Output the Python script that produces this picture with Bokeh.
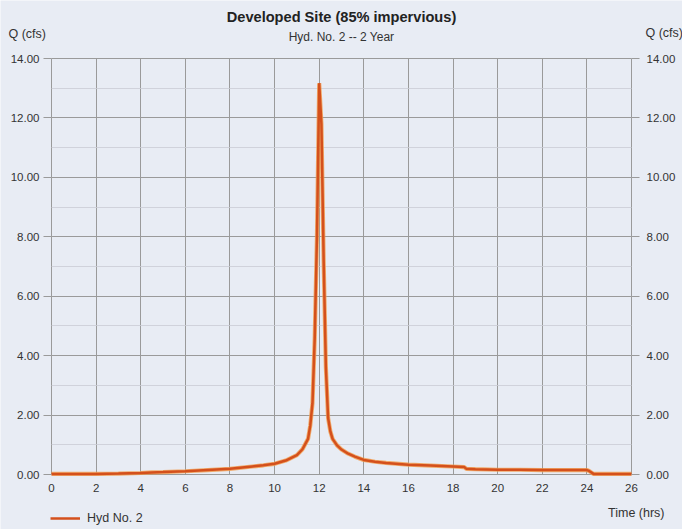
from bokeh.plotting import figure
from bokeh.models import (LinearAxis, SingleIntervalTicker, PrintfTickFormatter,
                          Label, Legend, LegendItem, Range1d, BoxAnnotation)
from bokeh.embed import file_html
from bokeh.resources import INLINE

# ---- data ----
title_text = "Developed Site (85% impervious)"
subtitle_text = "Hyd. No. 2 -- 2 Year"
series_name = "Hyd No. 2"
y_label = "Q (cfs)"
x_label = "Time (hrs)"

time_hrs = [0, 1, 2, 3, 4, 4.5, 5, 6, 7, 8, 9, 9.5, 10, 10.5, 11, 11.25, 11.5,
            11.6, 11.7, 11.8, 11.9, 12.0, 12.1, 12.2, 12.3, 12.4, 12.5, 12.6,
            12.8, 13.0, 13.3, 13.6, 14.0, 14.5, 15, 16, 17, 18, 18.5, 18.6, 19,
            20, 21, 22, 23, 24, 24.1, 24.3, 25, 26]
flow_cfs = [0.02, 0.02, 0.02, 0.03, 0.05, 0.07, 0.08, 0.11, 0.15, 0.19, 0.27,
            0.31, 0.36, 0.47, 0.65, 0.85, 1.2, 1.65, 2.4, 4.6, 8.0, 13.17, 11.8,
            7.2, 3.6, 1.9, 1.45, 1.2, 0.98, 0.84, 0.70, 0.60, 0.49, 0.43, 0.39,
            0.33, 0.30, 0.27, 0.25, 0.19, 0.18, 0.16, 0.16, 0.15, 0.15, 0.15,
            0.12, 0.02, 0.02, 0.02]
x_bounds = (0, 26)
y_bounds = (0, 14)

BG = "#e8ecf4"
GRID = "#9a9a9a"
TXT = "#333333"
FONT = "Liberation Sans"
W, H = 682, 529
# plot-area placement on the canvas (pixels)
L, R, T, B = 51, 631, 58, 474
xs = (R - L) / (x_bounds[1] - x_bounds[0])
ys = (B - T) / (y_bounds[1] - y_bounds[0])
x_rng = Range1d(x_bounds[0] - L / xs, x_bounds[1] + (W - R) / xs)
y_rng = Range1d(y_bounds[0] - (H - B) / ys, y_bounds[1] + T / ys)

def dx(px):
    return x_bounds[0] + (px - L) / xs

def dy(py):
    return y_bounds[0] + (B - py) / ys

p = figure(width=W, height=H, output_backend="svg", toolbar_location=None,
           x_range=x_rng, y_range=y_rng, min_border=0,
           background_fill_color=BG, border_fill_color=BG)
p.title.visible = False
p.outline_line_color = None

xt = SingleIntervalTicker(interval=2, num_minor_ticks=0)
yt = SingleIntervalTicker(interval=2, num_minor_ticks=2)
fmt = PrintfTickFormatter(format="%.2f")

xa = p.xaxis[0]
xa.ticker = xt
xa.fixed_location = 0
xa.bounds = x_bounds

ya = p.yaxis[0]
ya.ticker = yt
ya.formatter = fmt
ya.fixed_location = 0
ya.bounds = y_bounds

ra = LinearAxis(ticker=yt, formatter=fmt, fixed_location=26, bounds=y_bounds)
p.add_layout(ra, "right")

for ax, so in ((ya, 4), (ra, 7)):
    ax.axis_line_color = None
    ax.major_tick_in = 0
    ax.major_tick_out = 8
    ax.major_tick_line_color = GRID
    ax.minor_tick_line_color = None
    ax.major_label_standoff = so
    ax.major_label_text_font = FONT
    ax.major_label_text_font_size = "11.5px"
    ax.major_label_text_color = TXT
xa.axis_line_color = None
xa.major_tick_in = 0
xa.major_tick_out = 0
xa.minor_tick_line_color = None
xa.major_label_standoff = 9
xa.major_label_text_font = FONT
xa.major_label_text_font_size = "11.5px"
xa.major_label_text_color = TXT

p.xgrid.grid_line_color = GRID
p.ygrid.grid_line_color = GRID
p.ygrid.minor_grid_line_color = "#c9ccd4"
p.ygrid.minor_grid_line_alpha = 0.8
try:
    p.xgrid.cross_bounds = y_bounds
    p.ygrid.cross_bounds = x_bounds
except Exception:
    # cover grid lines outside the plot area
    for kw in (dict(top=y_bounds[0]), dict(bottom=y_bounds[1]),
               dict(right=x_bounds[0]), dict(left=x_bounds[1])):
        p.add_layout(BoxAnnotation(fill_color=BG, fill_alpha=1, line_color=None,
                                   level="underlay", **kw))

p.line(time_hrs, flow_cfs, line_color="#f29a48", line_width=4.2, line_alpha=0.8)
r = p.line(time_hrs, flow_cfs, line_color="#d4501c", line_width=2.5)

def lab(x, y, text, size="12.5px", bold=False, align="left"):
    p.add_layout(Label(x=x, y=y, text=text, text_font=FONT,
                       text_font_size=size,
                       text_color="#222222" if bold else TXT,
                       text_font_style="bold" if bold else "normal",
                       text_align=align, text_baseline="middle"))

lab(13, dy(16), title_text, size="14.6px", bold=True, align="center")
lab(13, dy(36), subtitle_text, size="12px", align="center")
lab(dx(8), dy(33), y_label)
lab(dx(645), dy(32), y_label)
lab(dx(664), dy(512), x_label, align="right")

legend = Legend(items=[LegendItem(label=series_name, renderers=[r])],
                location=(50, 4), background_fill_alpha=0,
                border_line_color=None, padding=0, margin=0, glyph_width=30,
                glyph_height=12, label_height=12, label_standoff=7,
                label_text_font=FONT, label_text_font_size="12.5px",
                label_text_color=TXT)
p.add_layout(legend, "center")

open("out.html", "w").write(file_html(p, INLINE))
